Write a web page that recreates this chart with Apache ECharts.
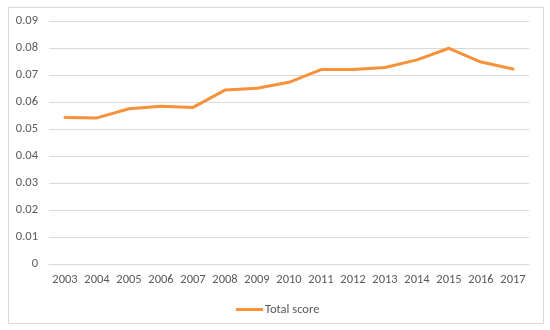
<!DOCTYPE html>
<html>
<head>
<meta charset="utf-8">
<script src="https://cdn.jsdelivr.net/npm/echarts@6/dist/echarts.min.js"></script>
<style>
html,body{margin:0;padding:0;background:#fff;}
#c{width:550px;height:330px;}
</style>
</head>
<body>
<div id="c"></div>
<script>
var years = ['2003','2004','2005','2006','2007','2008','2009','2010','2011','2012','2013','2014','2015','2016','2017'];
var totalScore = [0.0543,0.0541,0.0575,0.0584,0.0580,0.0644,0.0651,0.0673,0.0720,0.0720,0.0728,0.0756,0.0799,0.0748,0.0722];
var seriesName = 'Total score';

var FONT = 'Carlito, Lato, "Open Sans", sans-serif';
var chart = echarts.init(document.getElementById('c'), null, {renderer:'canvas'});
chart.setOption({
  animation:false,
  backgroundColor:'#fff',
  graphic:[{type:'rect',shape:{x:8.5,y:7.5,width:535,height:316},style:{fill:'none',stroke:'#D9D9D9',lineWidth:1},silent:true}],
  grid:{left:49,right:21,top:21,bottom:66,containLabel:false},
  xAxis:{
    type:'category',data:years,boundaryGap:true,
    axisLine:{show:true,lineStyle:{color:'#D9D9D9',width:1}},
    axisTick:{show:false},
    axisLabel:{color:'#595959',fontSize:12.5,fontFamily:FONT,margin:9,interval:0}
  },
  yAxis:{
    type:'value',min:0,max:0.09,interval:0.01,
    axisLine:{show:false},axisTick:{show:false},
    splitLine:{lineStyle:{color:'#D9D9D9',width:1}},
    axisLabel:{color:'#595959',fontSize:12.5,fontFamily:FONT,margin:11,
      formatter:function(v){return v===0?'0':v.toFixed(2);}}
  },
  legend:{
    show:true,left:231,top:298,itemWidth:27,itemHeight:3,itemGap:10,
    icon:'rect',
    textStyle:{color:'#595959',fontSize:12.5,fontFamily:FONT,padding:[0,0,0,-3]},
    data:[seriesName]
  },
  series:[{
    name:seriesName,type:'line',data:totalScore,
    symbol:'none',smooth:false,
    lineStyle:{color:'#F7923A',width:3,cap:'round',join:'round'},
    itemStyle:{color:'#F7923A'}
  }]
});
</script>
</body>
</html>
